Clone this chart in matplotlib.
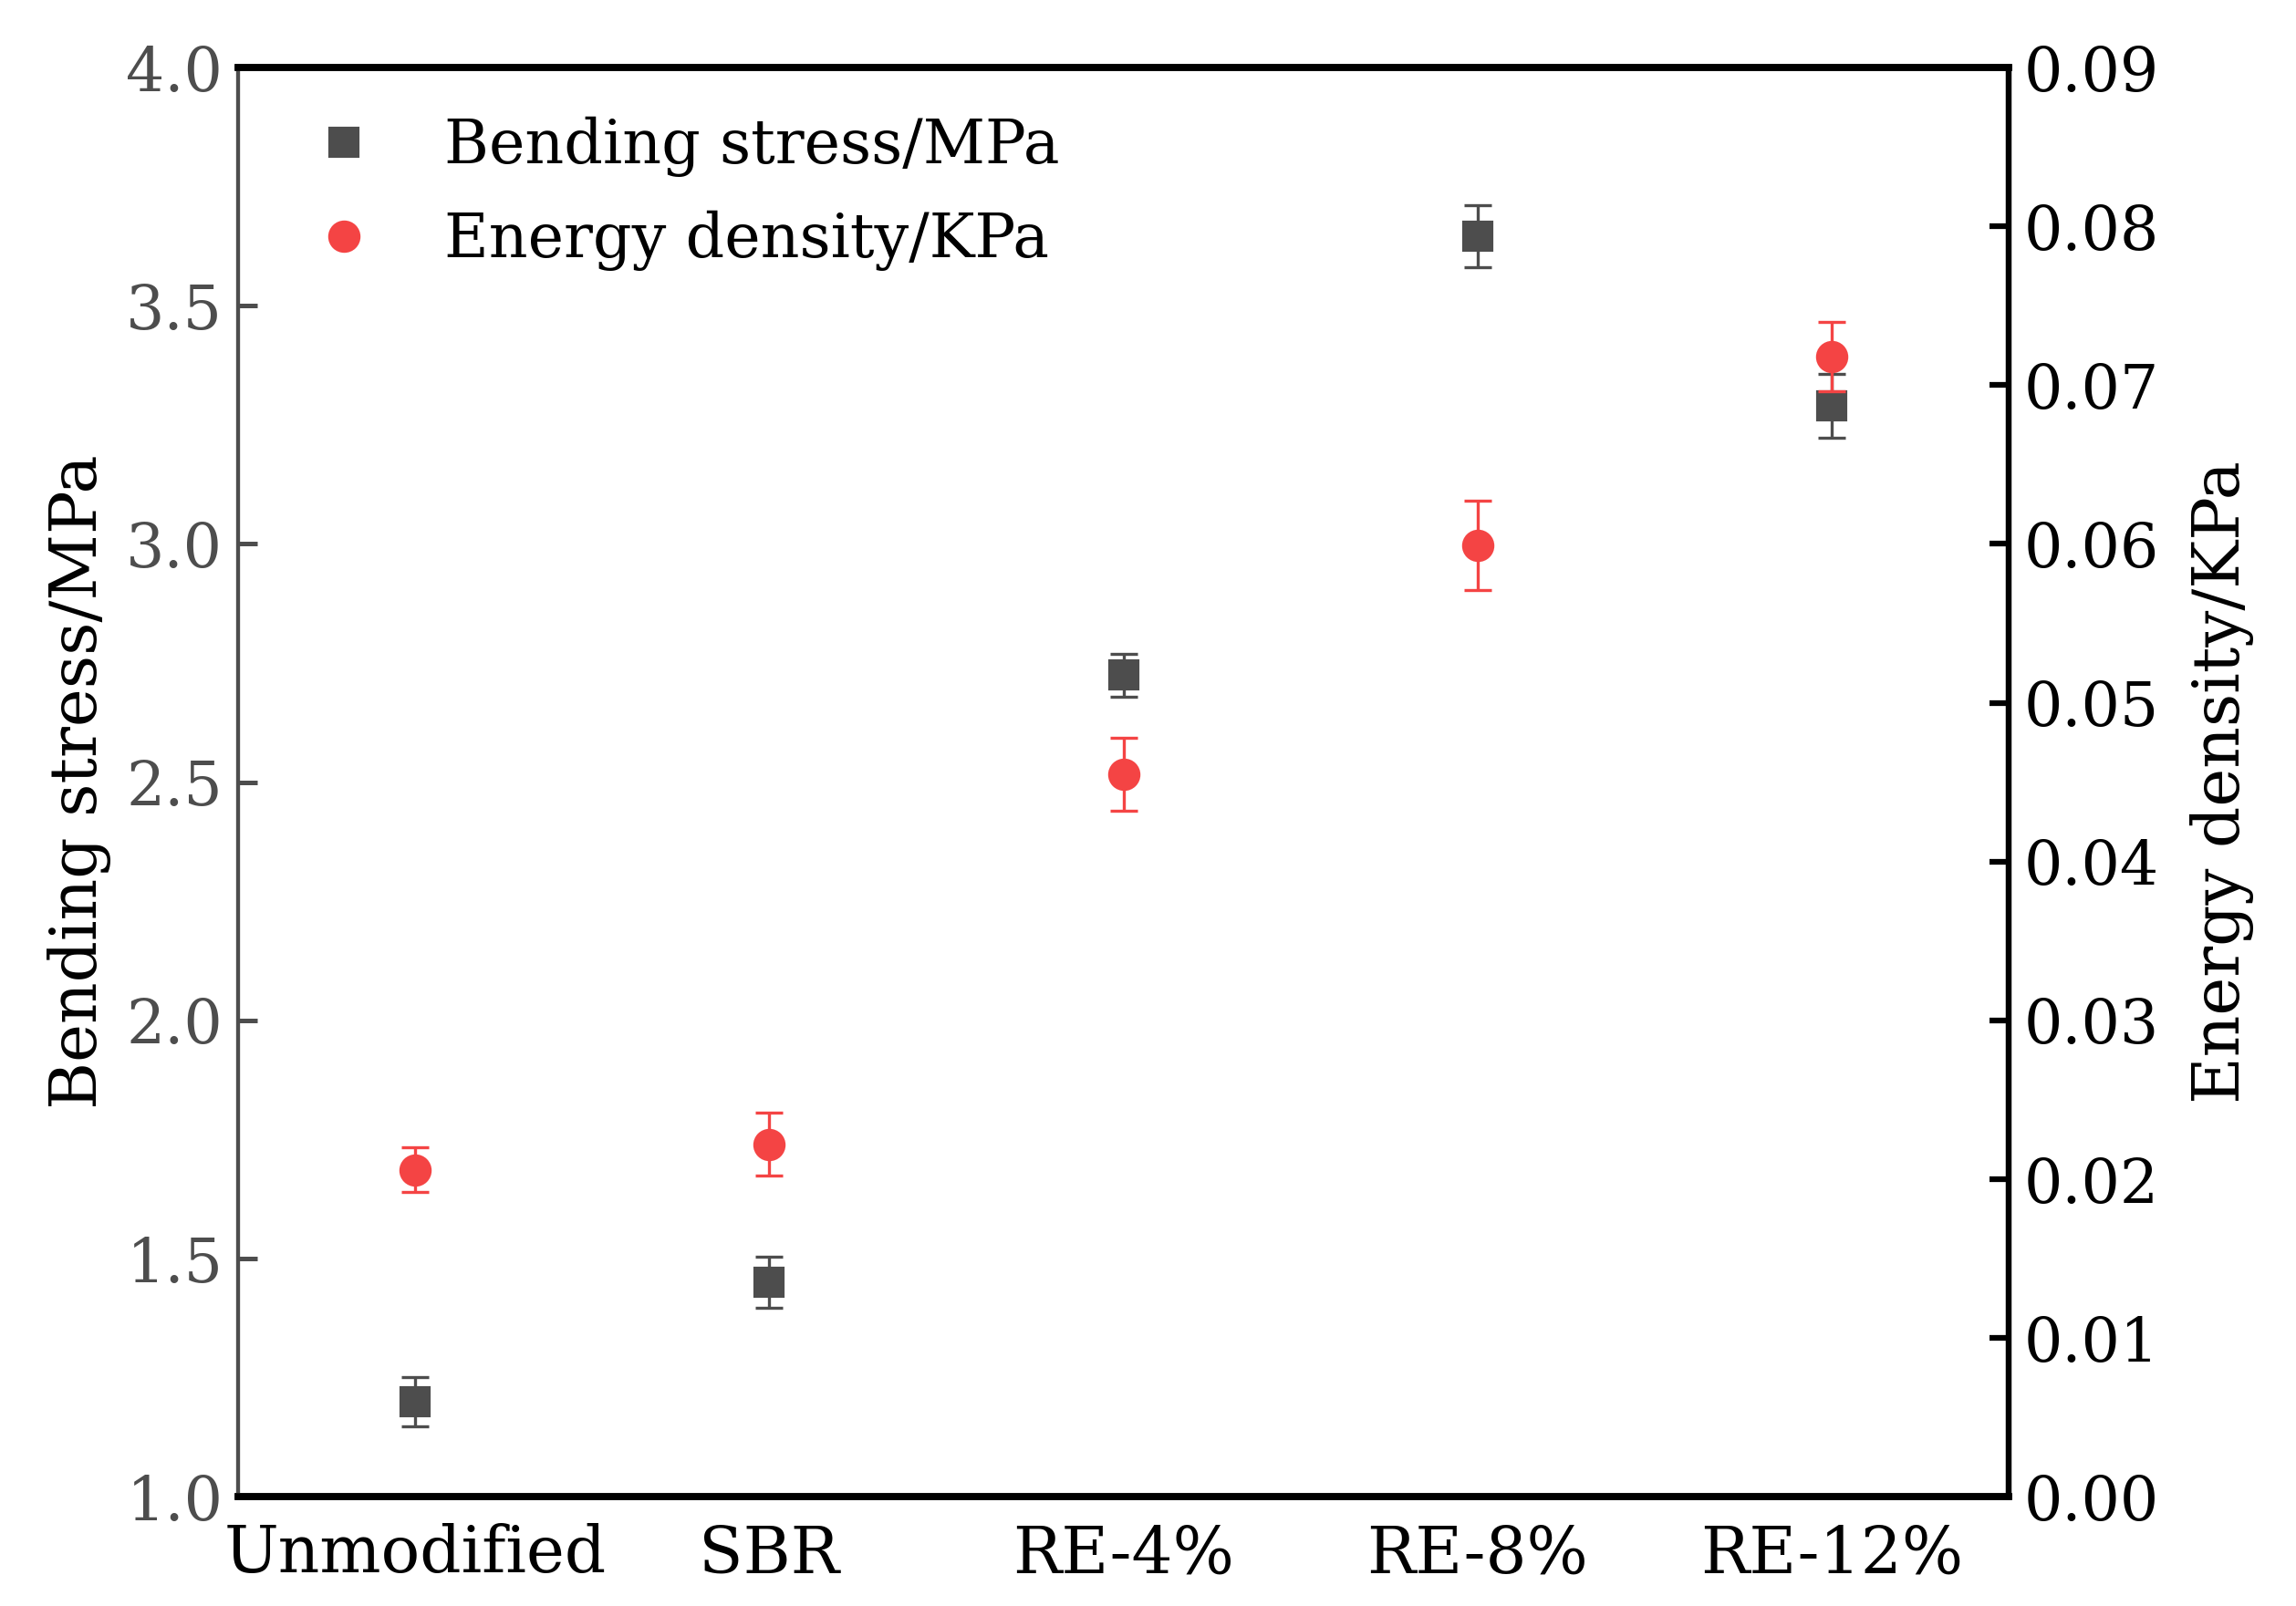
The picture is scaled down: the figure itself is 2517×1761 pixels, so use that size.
import numpy as np
import matplotlib.pyplot as plt

plt.rcParams['font.family'] = ['DejaVu Serif']

# data
samples = ["Unmodified", "SBR", "RE-4%", "RE-8%", "RE-12%"]
bending = [1.20, 1.45, 2.725, 3.645, 3.29]
bending_err = [0.052, 0.053, 0.045, 0.065, 0.067]
energy = [0.0206, 0.0222, 0.0455, 0.0599, 0.0718]
energy_err = [0.0014, 0.0020, 0.0023, 0.0028, 0.0022]

grey = "#4d4d4d"
red = "#f44444"

fig = plt.figure(figsize=(2517 / 300, 1761 / 300), dpi=300)
ax = fig.add_axes([0.1037, 0.068, 0.7713, 0.890])
ax2 = ax.twinx()

x = np.arange(len(samples))
eb1 = ax.errorbar(x, bending, yerr=bending_err, fmt="s", color=grey, ms=7,
                  capsize=3.5, elinewidth=0.8, capthick=0.8, zorder=3)
eb2 = ax2.errorbar(x, energy, yerr=energy_err, fmt="o", color=red, ms=7.5,
                   capsize=3.5, elinewidth=0.8, capthick=0.8, zorder=3)

ax.set_xlim(-0.5, 4.5)
ax.set_ylim(1.0, 4.0)
ax.set_yticks(np.arange(1.0, 4.01, 0.5))
ax.set_yticklabels([f"{v:.1f}" for v in np.arange(1.0, 4.01, 0.5)])
ax2.set_ylim(0, 0.09)
ax2.set_yticks(np.arange(0, 0.091, 0.01))
ax2.set_yticklabels([f"{v:.2f}" for v in np.arange(0, 0.091, 0.01)])
ax.set_xticks(x)
ax.set_xticklabels(samples)

ax.tick_params(axis="y", direction="in", length=5, width=1.2, colors=grey,
               labelsize=16, pad=4)
ax.tick_params(axis="x", length=0, labelsize=17, pad=7)
ax2.tick_params(axis="y", direction="in", length=5, width=1.5, colors="black",
                labelsize=16, pad=4)

for a in (ax, ax2):
    a.spines["top"].set_linewidth(1.8)
    a.spines["bottom"].set_linewidth(1.8)
    a.spines["right"].set_linewidth(1.5)
    a.spines["left"].set_linewidth(1.0)
    a.spines["left"].set_color(grey)

ax.set_ylabel("Bending stress/MPa", fontsize=17, labelpad=4)
ax2.set_ylabel("Energy density/KPa", fontsize=17, labelpad=8)

handles = [eb1[0], eb2[0]]
ax2.legend(handles, ["Bending stress/MPa", "Energy density/KPa"], loc="upper left",
           bbox_to_anchor=(0.003, 1.004), frameon=False, fontsize=16,
           handletextpad=0.9, labelspacing=0.55, handlelength=1.5)

fig.savefig("out.png", dpi=300)
